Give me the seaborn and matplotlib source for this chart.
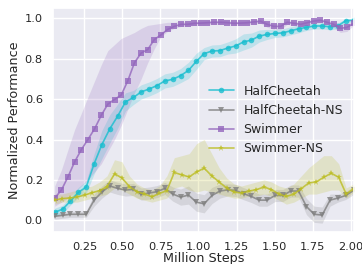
import matplotlib
matplotlib.use("Agg")
import matplotlib.pyplot as plt
import seaborn as sns
import numpy as np

# evaluation points (million steps) - the runs were logged at different rates
x_hc = [0.055, 0.107, 0.158, 0.210, 0.262, 0.314, 0.365, 0.417, 0.469, 0.520,
        0.572, 0.624, 0.676, 0.727, 0.779, 0.831, 0.882, 0.934, 0.986, 1.037,
        1.089, 1.141, 1.193, 1.244, 1.296, 1.348, 1.399, 1.451, 1.503, 1.555,
        1.606, 1.658, 1.710, 1.761, 1.813, 1.865, 1.916, 1.968, 2.020]
x_sw = [0.055, 0.099, 0.142, 0.186, 0.230, 0.273, 0.317, 0.361, 0.404, 0.448,
        0.492, 0.535, 0.579, 0.623, 0.666, 0.710, 0.754, 0.797, 0.841, 0.885,
        0.928, 0.972, 1.016, 1.059, 1.103, 1.147, 1.190, 1.234, 1.278, 1.321,
        1.365, 1.409, 1.452, 1.496, 1.540, 1.583, 1.627, 1.671, 1.714, 1.758,
        1.802, 1.845, 1.889, 1.933, 1.976, 2.020]
x_swns = [0.055, 0.104, 0.153, 0.202, 0.252, 0.301, 0.350, 0.399, 0.448, 0.497,
          0.546, 0.595, 0.645, 0.694, 0.743, 0.792, 0.841, 0.890, 0.939, 0.988,
          1.038, 1.087, 1.136, 1.185, 1.234, 1.283, 1.332, 1.381, 1.431, 1.480,
          1.529, 1.578, 1.627, 1.676, 1.725, 1.774, 1.823, 1.873, 1.922, 1.971,
          2.020]

# HalfCheetah
hc_mean = [0.04, 0.055, 0.095, 0.138, 0.165, 0.28, 0.375, 0.453, 0.516, 0.586,
           0.608, 0.636, 0.65, 0.667, 0.69, 0.698, 0.716, 0.742, 0.787, 0.825,
           0.838, 0.84, 0.853, 0.863, 0.883, 0.892, 0.912, 0.92, 0.925, 0.928,
           0.938, 0.948, 0.955, 0.962, 0.962, 0.958, 0.962, 0.988, 0.99]
hc_spread = [0.02, 0.02, 0.02, 0.025, 0.03, 0.05, 0.07, 0.07, 0.06, 0.045,
             0.035, 0.035, 0.035, 0.035, 0.035, 0.035, 0.035, 0.04, 0.04, 0.03,
             0.03, 0.03, 0.03, 0.035, 0.04, 0.035, 0.03, 0.025, 0.02, 0.02,
             0.02, 0.02, 0.015, 0.015, 0.015, 0.015, 0.015, 0.01, 0.01]

# HalfCheetah-NS
hcns_mean = [0.02, 0.025, 0.03, 0.03, 0.03, 0.10, 0.14, 0.17, 0.158, 0.15,
             0.153, 0.13, 0.135, 0.142, 0.158, 0.13, 0.115, 0.125, 0.09, 0.082,
             0.123, 0.145, 0.151, 0.148, 0.132, 0.118, 0.10, 0.10, 0.123, 0.123,
             0.145, 0.145, 0.068, 0.03, 0.026, 0.10, 0.11, 0.123, 0.148]
hcns_spread = [0.015, 0.015, 0.015, 0.015, 0.015, 0.03, 0.03, 0.03, 0.03, 0.03,
               0.03, 0.03, 0.03, 0.03, 0.03, 0.035, 0.04, 0.045, 0.045, 0.045,
               0.04, 0.035, 0.03, 0.03, 0.03, 0.03, 0.03, 0.03, 0.03, 0.03,
               0.03, 0.03, 0.04, 0.04, 0.04, 0.03, 0.02, 0.02, 0.02]

# Swimmer
sw_mean = [0.11, 0.15, 0.215, 0.29, 0.35, 0.40, 0.453, 0.52, 0.575, 0.598,
           0.62, 0.69, 0.78, 0.828, 0.845, 0.895, 0.918, 0.945, 0.96, 0.97,
           0.97, 0.975, 0.976, 0.978, 0.98, 0.98, 0.978, 0.975, 0.976, 0.978,
           0.982, 0.985, 0.97, 0.96, 0.96, 0.98, 0.975, 0.97, 0.978, 0.986,
           0.99, 0.98, 0.97, 0.95, 0.955, 0.975]
sw_low = [0.07, 0.09, 0.11, 0.14, 0.17, 0.20, 0.24, 0.28, 0.34, 0.40,
          0.47, 0.55, 0.63, 0.70, 0.78, 0.85, 0.91, 0.935, 0.95, 0.96,
          0.96, 0.965, 0.966, 0.968, 0.97, 0.97, 0.968, 0.965, 0.966, 0.968,
          0.972, 0.975, 0.955, 0.945, 0.945, 0.97, 0.965, 0.96, 0.968, 0.976,
          0.98, 0.97, 0.955, 0.93, 0.935, 0.965]
sw_high = [0.17, 0.25, 0.35, 0.45, 0.53, 0.61, 0.69, 0.77, 0.84, 0.87,
           0.90, 0.915, 0.93, 0.95, 0.965, 0.97, 0.975, 0.98, 0.98, 0.985,
           0.98, 0.985, 0.986, 0.988, 0.99, 0.99, 0.988, 0.985, 0.986, 0.988,
           0.992, 0.995, 0.985, 0.975, 0.975, 0.99, 0.985, 0.98, 0.988, 0.996,
           1.0, 0.99, 0.985, 0.97, 0.975, 0.985]

# Swimmer-NS
swns_mean = [0.10, 0.108, 0.11, 0.116, 0.125, 0.137, 0.147, 0.167, 0.23, 0.21,
             0.167, 0.142, 0.13, 0.117, 0.133, 0.147, 0.237, 0.225, 0.215, 0.24,
             0.258, 0.22, 0.19, 0.16, 0.14, 0.135, 0.145, 0.152, 0.165, 0.152,
             0.13, 0.118, 0.13, 0.157, 0.185, 0.19, 0.213, 0.233, 0.213, 0.13,
             0.157]
swns_low = [0.08, 0.09, 0.09, 0.09, 0.10, 0.11, 0.12, 0.13, 0.16, 0.15,
            0.13, 0.11, 0.10, 0.09, 0.10, 0.11, 0.16, 0.17, 0.15, 0.14,
            0.15, 0.14, 0.13, 0.12, 0.11, 0.11, 0.12, 0.12, 0.13, 0.12,
            0.10, 0.08, 0.09, 0.11, 0.13, 0.13, 0.14, 0.15, 0.15, 0.11,
            0.14]
swns_high = [0.13, 0.13, 0.14, 0.15, 0.16, 0.17, 0.19, 0.22, 0.30, 0.29,
             0.22, 0.18, 0.16, 0.15, 0.17, 0.22, 0.31, 0.32, 0.33, 0.38,
             0.40, 0.33, 0.26, 0.21, 0.18, 0.17, 0.18, 0.19, 0.20, 0.19,
             0.17, 0.16, 0.18, 0.22, 0.26, 0.29, 0.32, 0.32, 0.28, 0.16,
             0.18]

sns.set_theme(style="darkgrid")
plt.rcParams['font.family'] = ['DejaVu Sans']

fig, ax = plt.subplots(figsize=(3.62, 2.64), dpi=100)
fig.subplots_adjust(left=0.147, right=0.979, top=0.969, bottom=0.121)

colors = {"HalfCheetah": "#17becf", "HalfCheetah-NS": "#7f7f7f",
          "Swimmer": "#9467bd", "Swimmer-NS": "#bcbd22"}

series = [
    ("HalfCheetah", x_hc, hc_mean,
     np.array(hc_mean) - np.array(hc_spread), np.array(hc_mean) + np.array(hc_spread), "o", 4),
    ("HalfCheetah-NS", x_hc, hcns_mean,
     np.array(hcns_mean) - np.array(hcns_spread), np.array(hcns_mean) + np.array(hcns_spread), "v", 4),
    ("Swimmer", x_sw, sw_mean, sw_low, sw_high, "s", 4),
    ("Swimmer-NS", x_swns, swns_mean, swns_low, swns_high, "*", 5),
]

for name, xs, ys, lo, hi, mk, ms in series:
    c = colors[name]
    ax.fill_between(xs, lo, hi, color=c, alpha=0.2, linewidth=0)
    sns.lineplot(x=xs, y=ys, ax=ax, color=c, marker=mk, markersize=ms,
                 markeredgewidth=0, linewidth=1.2, alpha=0.8, label=name)

ax.set_xlim(0.045, 2.025)
ax.set_ylim(-0.058, 1.05)
ax.set_xticks([0.25, 0.5, 0.75, 1.0, 1.25, 1.5, 1.75, 2.0])
ax.set_yticks([0.0, 0.2, 0.4, 0.6, 0.8, 1.0])
ax.tick_params(labelsize=8.2, pad=1.5)
ax.set_xlabel("Million Steps", fontsize=9.2, labelpad=0)
ax.set_ylabel("Normalized Performance", fontsize=9.2, labelpad=3)
ax.legend(loc="center right", fontsize=9, frameon=False, bbox_to_anchor=(1.0, 0.5))

plt.savefig("out.png", dpi=100)
